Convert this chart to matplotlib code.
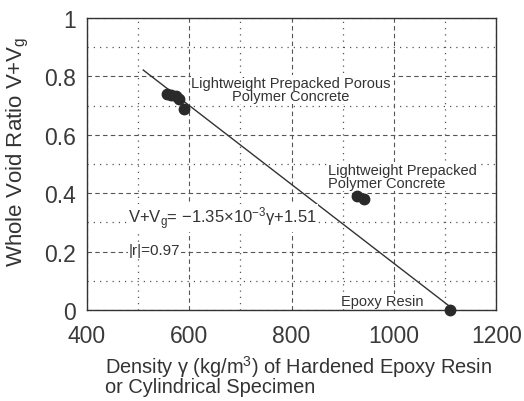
import numpy as np
import matplotlib
matplotlib.use("Agg")
import matplotlib.pyplot as plt
from matplotlib.ticker import MultipleLocator

plt.rcParams['font.family'] = ['Liberation Sans', 'DejaVu Sans']
plt.rcParams['mathtext.fontset'] = 'custom'
plt.rcParams['mathtext.rm'] = 'Liberation Sans'
plt.rcParams['mathtext.it'] = 'Liberation Sans:italic'

porous_density = [556, 565, 574, 580, 590]
porous_void = [0.740, 0.737, 0.733, 0.722, 0.688]
prepacked_density = [928, 941]
prepacked_void = [0.390, 0.380]
epoxy_density = [1110]
epoxy_void = [0.0]

# regression V+Vg = -1.35e-3 * gamma + 1.51
slope = -1.35e-3
intercept = 1.51
fit_range = [510, 1110]

fig = plt.figure(figsize=(5.24, 4.02), dpi=100)
ax = fig.add_axes([0.166, 0.226, 0.781, 0.727])

# grid: dashed majors, dotted minors
ax.xaxis.set_major_locator(MultipleLocator(200))
ax.xaxis.set_minor_locator(MultipleLocator(100))
ax.yaxis.set_major_locator(MultipleLocator(0.2))
ax.yaxis.set_minor_locator(MultipleLocator(0.1))
ax.grid(which='major', linestyle=(0, (4, 3)), color='#555555', linewidth=0.8)
ax.grid(which='minor', linestyle=(0, (1, 4)), color='#555555', linewidth=0.9)
ax.tick_params(which='both', length=0, labelsize=16.5, colors='#3a3a3a')
ax.tick_params(axis='y', pad=8)
ax.tick_params(axis='x', pad=10)
ax.set_axisbelow(True)

fx = np.array(fit_range)
ax.plot(fx, slope * fx + intercept, color='#333333', linewidth=1.0, zorder=3)

for d, v in [(porous_density, porous_void), (prepacked_density, prepacked_void),
             (epoxy_density, epoxy_void)]:
    ax.plot(d, v, 'o', color='#2a2a2a', markersize=7.5, zorder=4, clip_on=False)

ax.set_xlim(400, 1200)
ax.set_ylim(0, 1)
ax.set_yticks([0, 0.2, 0.4, 0.6, 0.8, 1.0])
ax.set_yticklabels(['0', '0.2', '0.4', '0.6', '0.8', '1'])
for s in ax.spines.values():
    s.set_color('#333333')
    s.set_linewidth(1.0)

tcol = '#333333'
bb = dict(facecolor='white', edgecolor='none', pad=0.5)
ax.text(799, 0.755, 'Lightweight Prepacked Porous\nPolymer Concrete', ha='center', va='center',
        fontsize=10.5, color=tcol, linespacing=0.95, bbox=bb)
ax.text(871, 0.457, 'Lightweight Prepacked\nPolymer Concrete', ha='left', va='center',
        fontsize=10.5, color=tcol, linespacing=0.95, bbox=bb)
ax.text(897, 0.03, 'Epoxy Resin', ha='left', va='center', fontsize=10.5, color=tcol, bbox=bb)
ax.text(480, 0.315, 'V+V$_\\mathregular{g}$= $-$1.35$\\times$10$^{\\mathregular{-3}}$γ+1.51',
        ha='left', va='center', fontsize=12, color=tcol, bbox=bb)
ax.text(482, 0.205, '|r|=0.97', ha='left', va='center', fontsize=11, color=tcol, bbox=bb)

fig.text(0.034, 0.622, 'Whole Void Ratio V+V$_\\mathregular{g}$', rotation=90, ha='center',
         va='center', fontsize=16, color=tcol)
fig.text(0.2, 0.012, 'Density γ (kg/m$^\\mathregular{3}$) of Hardened Epoxy Resin\nor Cylindrical Specimen',
         ha='left', va='bottom', fontsize=14.4, color=tcol, linespacing=0.88)

fig.savefig('out.png', dpi=100)
